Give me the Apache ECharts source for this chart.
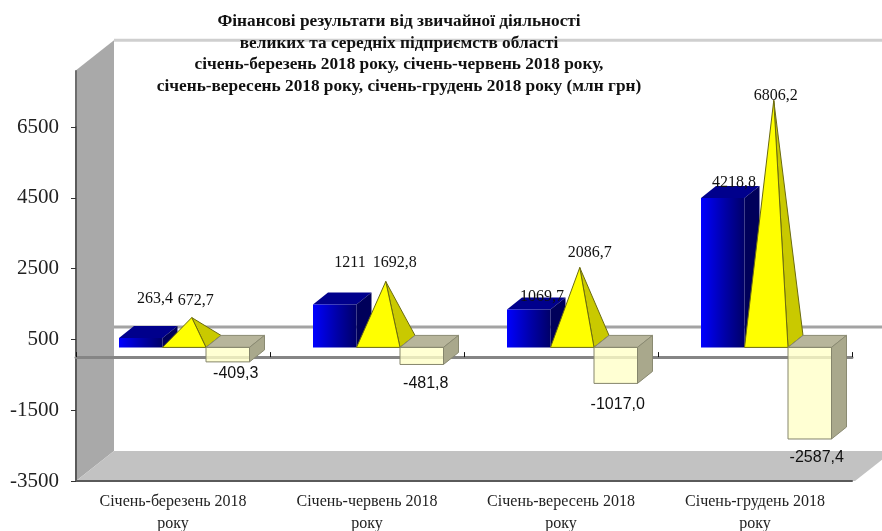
<!DOCTYPE html>
<html>
<head>
<meta charset="utf-8">
<title>Фінансові результати</title>
<style>
	html, body { margin: 0; padding: 0; background: #fff; }
	#main { width: 882px; height: 531px; }
</style>
<script src="https://cdn.jsdelivr.net/npm/echarts@6/dist/echarts.min.js"></script>
</head>
<body>
<div id="main"></div>
<script>
	var titleText = 'Фінансові результати від звичайної діяльності\nвеликих та середніх підприємств області\nсічень-березень 2018 року, січень-червень 2018 року,\nсічень-вересень 2018 року, січень-грудень 2018 року (млн грн)';
	var categories = ['Січень-березень 2018\nроку', 'Січень-червень 2018\nроку', 'Січень-вересень 2018\nроку', 'Січень-грудень 2018\nроку'];
	var blueValues = [263.4, 1211, 1069.7, 4218.8];
	var yellowValues = [672.7, 1692.8, 2086.7, 6806.2];
	var paleValues = [-409.3, -481.8, -1017.0, -2587.4];
	var blueLabels = ['263,4', '1211', '1069,7', '4218,8'];
	var yellowLabels = ['672,7', '1692,8', '2086,7', '6806,2'];
	var paleLabels = ['-409,3', '-481,8', '-1017,0', '-2587,4'];

	// label nudges in px, one per category
	var blueNudge = [[36, -39], [37, -42], [35, -13], [33, -15]];
	var yellowNudge = [[4, -17], [9, -19], [10, -15], [2, -5]];
	var paleNudge = [[8, 11.5], [4, 19], [2, 21], [7, 19]];

	var SERIF = '"Liberation Serif", serif';
	var SANS = '"Liberation Sans", sans-serif';
	var wallDx = 38, wallDy = -30, wallTop = 8100;
	var barW = 43.5, barDx = 15, barDy = -12, baseLift = 9.7, firstGap = 43;

	var chart = echarts.init(document.getElementById('main'));

	// left edge of a bar inside its category, n = position in the cluster
	function barLeft(api, i, n) {
		var c = api.coord([i, 0]);
		return c[0] - api.size([1, 0])[0] / 2 + firstGap + n * barW;
	}

	function poly(points, fill, stroke, extra) {
		return {
			type: 'polygon',
			shape: { points: points },
			style: Object.assign({ fill: fill, stroke: stroke || null, lineWidth: 1 }, extra || {})
		};
	}

	function label(text, x, y, font, size) {
		return {
			type: 'text',
			z2: 10,
			style: { text: text, x: x, y: y, fill: '#111', font: size + 'px ' + font, textAlign: 'center', textVerticalAlign: 'middle' }
		};
	}

	function renderWalls(params, api) {
		var g = params.coordSys;
		var bottom = g.y + g.height, right = g.x + g.width;
		var top = api.coord([0, wallTop])[1];
		var zero = api.coord([0, 0])[1];
		return {
			type: 'group',
			children: [
				{ type: 'line', shape: { x1: g.x + wallDx, y1: top + wallDy, x2: 882, y2: top + wallDy }, style: { stroke: '#cfcfcf', lineWidth: 3 } },
				{ type: 'line', shape: { x1: g.x + wallDx, y1: zero + wallDy, x2: 882, y2: zero + wallDy }, style: { stroke: '#a3a3a3', lineWidth: 3 } },
				poly([[g.x, top], [g.x + wallDx, top + wallDy], [g.x + wallDx, bottom + wallDy], [g.x, bottom]], '#a9a9a9'),
				poly([[g.x, bottom], [right + 3, bottom], [right + 3 + wallDx, bottom + wallDy], [g.x + wallDx, bottom + wallDy]], '#c2c2c2'),
				{ type: 'line', shape: { x1: g.x, y1: top, x2: g.x, y2: bottom }, style: { stroke: '#6e6e6e', lineWidth: 2 } }
			]
		};
	}

	function renderBlue(params, api) {
		var i = api.value(0);
		var left = barLeft(api, i, 0), right = left + barW;
		var base = api.coord([i, 0])[1] - baseLift;
		var top = base - (api.coord([i, 0])[1] - api.coord([i, api.value(1)])[1]);
		var nudge = blueNudge[i];
		return {
			type: 'group',
			children: [
				poly([[left, top], [left + barDx, top + barDy], [right + barDx, top + barDy], [right, top]], '#00008c'),
				poly([[right, top], [right + barDx, top + barDy], [right + barDx, base + barDy], [right, base]], '#00005a'),
				poly([[left, top], [right, top], [right, base], [left, base]], new echarts.graphic.LinearGradient(0, 0, 1, 0, [
					{ offset: 0, color: '#0000ff' },
					{ offset: 0.55, color: '#0000a8' },
					{ offset: 1, color: '#000068' }
				])),
				label(blueLabels[i], left + nudge[0], top + nudge[1], SERIF, 16)
			]
		};
	}

	function renderYellow(params, api) {
		var i = api.value(0);
		var left = barLeft(api, i, 1), right = left + barW;
		var base = api.coord([i, 0])[1] - baseLift;
		var h = api.coord([i, 0])[1] - api.coord([i, api.value(1)])[1];
		var apex = [left + (barW + barDx) / 2, base + barDy / 2 - h];
		var nudge = yellowNudge[i];
		return {
			type: 'group',
			children: [
				poly([[right, base], [right + barDx, base + barDy], apex], '#c9c900', '#6b6b10'),
				poly([[left, base], [right, base], apex], '#ffff00', '#6b6b10'),
				label(yellowLabels[i], apex[0] + nudge[0], apex[1] + nudge[1], SERIF, 16)
			]
		};
	}

	function renderPale(params, api) {
		var i = api.value(0);
		var left = barLeft(api, i, 2), right = left + barW;
		var base = api.coord([i, 0])[1] - baseLift;
		var bottom = base + (api.coord([i, api.value(1)])[1] - api.coord([i, 0])[1]);
		var nudge = paleNudge[i];
		return {
			type: 'group',
			children: [
				poly([[left, base], [left + barDx, base + barDy], [right + barDx, base + barDy], [right, base]], '#b7b59b', '#8a8a72'),
				poly([[right, base], [right + barDx, base + barDy], [right + barDx, bottom + barDy], [right, bottom]], '#a9a88c', '#8a8a72'),
				poly([[left, base], [right, base], [right, bottom], [left, bottom]], 'rgba(255,255,200,0.8)', '#85856c'),
				label(paleLabels[i], (left + right) / 2 + nudge[0], bottom + nudge[1], SANS, 16)
			]
		};
	}

	function rows(values) {
		return values.map(function (v, i) { return [i, v]; });
	}

	var option = {
		animation: false,
		backgroundColor: '#fff',
		title: {
			text: titleText,
			left: 394,
			top: 6,
			textAlign: 'center',
			textStyle: { fontFamily: SERIF, fontSize: 17.3, fontWeight: 'bold', color: '#111', lineHeight: 21.5 }
		},
		grid: { left: 76, top: 127, width: 776, height: 354, outerBoundsMode: 'none' },
		xAxis: [{
			type: 'category',
			data: categories,
			z: 1,
			axisLine: { onZero: false, lineStyle: { color: '#5a5a5a', width: 2 } },
			axisTick: { show: false },
			axisLabel: { interval: 0, margin: 10, lineHeight: 22, fontFamily: SERIF, fontSize: 16, color: '#222' }
		}, {
			type: 'category',
			data: categories,
			z: 1,
			axisLine: { onZero: true, lineStyle: { color: '#858585', width: 3 } },
			axisTick: { show: true, interval: 0, length: 5, lineStyle: { color: '#111', width: 1 } },
			axisLabel: { show: false, interval: 0 }
		}],
		yAxis: {
			type: 'value',
			min: -3500,
			max: 6500,
			interval: 2000,
			z: 1,
			splitLine: { show: false },
			axisLine: { show: true, lineStyle: { color: '#5a5a5a', width: 2 } },
			axisTick: { show: true, length: 5, lineStyle: { color: '#333', width: 1 } },
			axisLabel: { margin: 17, fontFamily: SERIF, fontSize: 21, color: '#222', formatter: function (v) { return String(v); } }
		},
		series: [
			{ type: 'custom', z: 0, silent: true, data: [[0, 0]], renderItem: renderWalls },
			{ type: 'custom', z: 2, data: rows(blueValues), renderItem: renderBlue },
			{ type: 'custom', z: 3, data: rows(yellowValues), renderItem: renderYellow },
			{ type: 'custom', z: 4, data: rows(paleValues), renderItem: renderPale }
		]
	};
	chart.setOption(option);
</script>
</body>
</html>
